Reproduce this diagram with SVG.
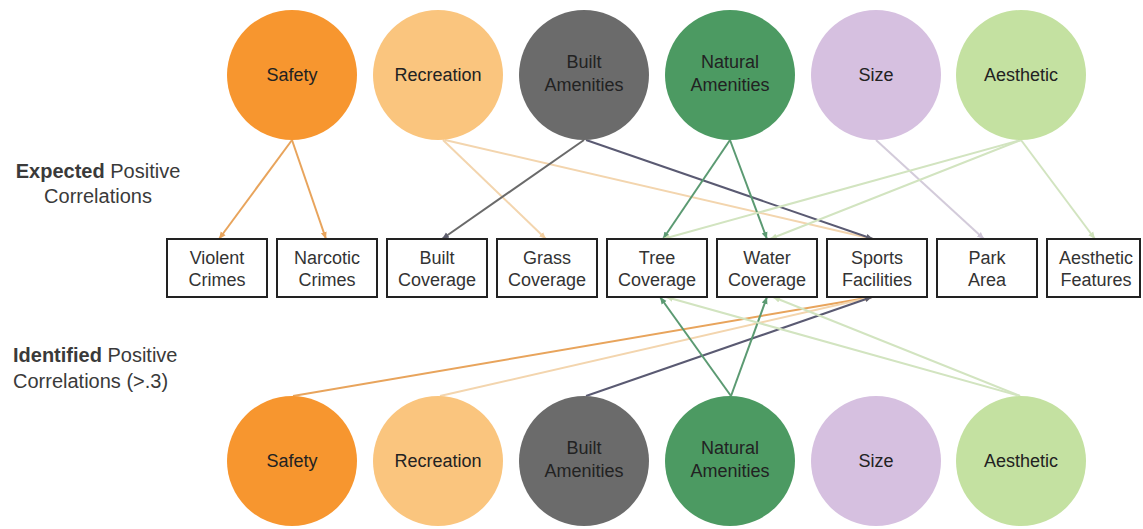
<svg xmlns="http://www.w3.org/2000/svg" width="1143" height="529" viewBox="0 0 1143 529">
<style>
.ct{font-family:"Liberation Sans",Arial,sans-serif;font-size:18px;fill:#222;text-anchor:middle}
.bt{font-family:"Liberation Sans",Arial,sans-serif;font-size:18px;fill:#333;text-anchor:middle}
.bx{fill:#fff;stroke:#222;stroke-width:2}
.lab{font-family:"Liberation Sans",Arial,sans-serif;font-size:20px;fill:#3a3a3a}
.c{fill:none;stroke-width:2}
</style>
<defs>
<marker id="mO" markerUnits="userSpaceOnUse" markerWidth="8" markerHeight="8" refX="7" refY="4" orient="auto"><path d="M0,1 L7,4 L0,7 z" fill="#E8A45C"/></marker>
<marker id="mR" markerUnits="userSpaceOnUse" markerWidth="8" markerHeight="8" refX="7" refY="4" orient="auto"><path d="M0,1 L7,4 L0,7 z" fill="#F3CFA0"/></marker>
<marker id="mG" markerUnits="userSpaceOnUse" markerWidth="8" markerHeight="8" refX="7" refY="4" orient="auto"><path d="M0,1 L7,4 L0,7 z" fill="#5E5E6E"/></marker>
<marker id="mN" markerUnits="userSpaceOnUse" markerWidth="8" markerHeight="8" refX="7" refY="4" orient="auto"><path d="M0,1 L7,4 L0,7 z" fill="#5B9A72"/></marker>
<marker id="mS" markerUnits="userSpaceOnUse" markerWidth="8" markerHeight="8" refX="7" refY="4" orient="auto"><path d="M0,1 L7,4 L0,7 z" fill="#CFC6D8"/></marker>
<marker id="mA" markerUnits="userSpaceOnUse" markerWidth="8" markerHeight="8" refX="7" refY="4" orient="auto"><path d="M0,1 L7,4 L0,7 z" fill="#CFE2BB"/></marker>
</defs>
<rect width="1143" height="529" fill="#fff"/>

<g id="labels">
<text class="lab" x="98" y="178" text-anchor="middle"><tspan font-weight="bold">Expected</tspan> Positive</text>
<text class="lab" x="98" y="203" text-anchor="middle">Correlations</text>
<text class="lab" x="13" y="362"><tspan font-weight="bold">Identified</tspan> Positive</text>
<text class="lab" x="13" y="388">Correlations (&gt;.3)</text>
</g>

<g id="connectors">
<!-- top -->
<line class="c" stroke="#E8A45C" x1="292" y1="140" x2="219" y2="239" marker-end="url(#mO)"/>
<line class="c" stroke="#E8A45C" x1="292" y1="140" x2="326" y2="239" marker-end="url(#mO)"/>
<line class="c" stroke="#F3D5AE" x1="443" y1="140" x2="546" y2="239" marker-end="url(#mR)"/>
<line class="c" stroke="#F3D5AE" x1="445" y1="140" x2="873" y2="239" marker-end="url(#mR)"/>
<line class="c" stroke="#6A6A6A" x1="584" y1="140" x2="442" y2="239" marker-end="url(#mG)"/>
<line class="c" stroke="#5A5A72" x1="586" y1="140" x2="873" y2="239" marker-end="url(#mG)"/>
<line class="c" stroke="#5B9A72" x1="730" y1="140" x2="663" y2="239" marker-end="url(#mN)"/>
<line class="c" stroke="#5B9A72" x1="730" y1="140" x2="767" y2="239" marker-end="url(#mN)"/>
<line class="c" stroke="#D3CBDA" x1="876" y1="140" x2="984" y2="239" marker-end="url(#mS)"/>
<line class="c" stroke="#D2E4C0" x1="1021" y1="140" x2="1095" y2="239" marker-end="url(#mA)"/>
<line class="c" stroke="#D2E4C0" x1="1021" y1="140" x2="663" y2="239" marker-end="url(#mA)"/>
<line class="c" stroke="#D2E4C0" x1="1021" y1="140" x2="770" y2="239" marker-end="url(#mA)"/>
<!-- bottom -->
<line class="c" stroke="#E8A45C" x1="293" y1="396" x2="872" y2="297" marker-end="url(#mO)"/>
<line class="c" stroke="#F3D5AE" x1="440" y1="396" x2="872" y2="297" marker-end="url(#mR)"/>
<line class="c" stroke="#5A5A72" x1="586" y1="396" x2="872" y2="297" marker-end="url(#mG)"/>
<line class="c" stroke="#5B9A72" x1="731" y1="396" x2="660" y2="297" marker-end="url(#mN)"/>
<line class="c" stroke="#5B9A72" x1="731" y1="396" x2="767" y2="297" marker-end="url(#mN)"/>
<line class="c" stroke="#D2E4C0" x1="1020" y1="396" x2="666" y2="297" marker-end="url(#mA)"/>
<line class="c" stroke="#D2E4C0" x1="1020" y1="396" x2="773" y2="297" marker-end="url(#mA)"/>
</g>

<g id="top-safety"><circle cx="292" cy="75" r="65" fill="#F7962F"/><text class="ct" x="292" y="81">Safety</text></g>
<g id="top-recreation"><circle cx="438" cy="75" r="65" fill="#FAC57E"/><text class="ct" x="438" y="81">Recreation</text></g>
<g id="top-built"><circle cx="584" cy="75" r="65" fill="#6B6B6B"/><text class="ct" x="584" y="68">Built</text><text class="ct" x="584" y="91">Amenities</text></g>
<g id="top-natural"><circle cx="730" cy="75" r="65" fill="#4C9A62"/><text class="ct" x="730" y="68">Natural</text><text class="ct" x="730" y="91">Amenities</text></g>
<g id="top-size"><circle cx="876" cy="75" r="65" fill="#D6C0E0"/><text class="ct" x="876" y="81">Size</text></g>
<g id="top-aesthetic"><circle cx="1021" cy="75" r="65" fill="#C4E1A1"/><text class="ct" x="1021" y="81">Aesthetic</text></g>

<g id="box-violent"><rect class="bx" x="167" y="239" width="100" height="58"/><text class="bt" x="217" y="264">Violent</text><text class="bt" x="217" y="286">Crimes</text></g>
<g id="box-narcotic"><rect class="bx" x="277" y="239" width="100" height="58"/><text class="bt" x="327" y="264">Narcotic</text><text class="bt" x="327" y="286">Crimes</text></g>
<g id="box-built"><rect class="bx" x="387" y="239" width="100" height="58"/><text class="bt" x="437" y="264">Built</text><text class="bt" x="437" y="286">Coverage</text></g>
<g id="box-grass"><rect class="bx" x="497" y="239" width="100" height="58"/><text class="bt" x="547" y="264">Grass</text><text class="bt" x="547" y="286">Coverage</text></g>
<g id="box-tree"><rect class="bx" x="607" y="239" width="100" height="58"/><text class="bt" x="657" y="264">Tree</text><text class="bt" x="657" y="286">Coverage</text></g>
<g id="box-water"><rect class="bx" x="717" y="239" width="100" height="58"/><text class="bt" x="767" y="264">Water</text><text class="bt" x="767" y="286">Coverage</text></g>
<g id="box-sports"><rect class="bx" x="827" y="239" width="100" height="58"/><text class="bt" x="877" y="264">Sports</text><text class="bt" x="877" y="286">Facilities</text></g>
<g id="box-park"><rect class="bx" x="937" y="239" width="100" height="58"/><text class="bt" x="987" y="264">Park</text><text class="bt" x="987" y="286">Area</text></g>
<g id="box-aesthetic"><rect class="bx" x="1047" y="239" width="93" height="58"/><text class="bt" x="1096" y="264">Aesthetic</text><text class="bt" x="1096" y="286">Features</text></g>

<g id="bot-safety"><circle cx="292" cy="461" r="65" fill="#F7962F"/><text class="ct" x="292" y="467">Safety</text></g>
<g id="bot-recreation"><circle cx="438" cy="461" r="65" fill="#FAC57E"/><text class="ct" x="438" y="467">Recreation</text></g>
<g id="bot-built"><circle cx="584" cy="461" r="65" fill="#6B6B6B"/><text class="ct" x="584" y="454">Built</text><text class="ct" x="584" y="477">Amenities</text></g>
<g id="bot-natural"><circle cx="730" cy="461" r="65" fill="#4C9A62"/><text class="ct" x="730" y="454">Natural</text><text class="ct" x="730" y="477">Amenities</text></g>
<g id="bot-size"><circle cx="876" cy="461" r="65" fill="#D6C0E0"/><text class="ct" x="876" y="467">Size</text></g>
<g id="bot-aesthetic"><circle cx="1021" cy="461" r="65" fill="#C4E1A1"/><text class="ct" x="1021" y="467">Aesthetic</text></g>
</svg>
